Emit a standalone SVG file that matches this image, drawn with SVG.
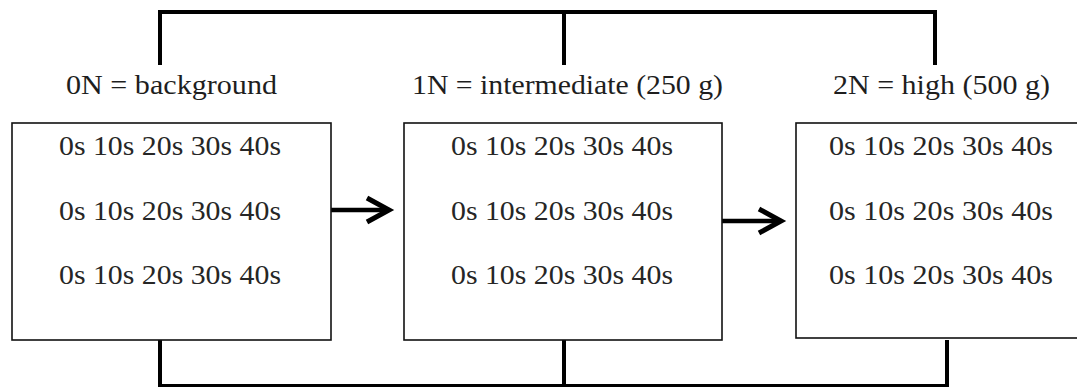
<svg xmlns="http://www.w3.org/2000/svg" width="1077" height="387" viewBox="0 0 1077 387">
  <style>
    .box { fill: #ffffff; stroke: #111111; stroke-width: 1.6; }
    .label { font-family: "Liberation Serif", "Times New Roman", serif; font-size: 27px; fill: #1e1e1e; }
    .row { font-family: "Liberation Serif", "Times New Roman", serif; font-size: 26.5px; fill: #262626; }
    .bracket { fill: none; stroke: #000000; stroke-width: 4; stroke-linejoin: miter; stroke-linecap: butt; }
    .shaft { fill: none; stroke: #000000; stroke-width: 4.5; }
    .head { fill: none; stroke: #000000; stroke-width: 5; stroke-linejoin: miter; stroke-linecap: butt; }
  </style>
  <rect width="1077" height="387" fill="#ffffff"/>

  <g id="connectors">
    <!-- top bracket joining the three load labels -->
    <path class="bracket" d="M160,65 V12 H935 V65 M564,12 V65"/>
    <!-- bottom bracket joining the three boxes -->
    <path class="bracket" d="M160,340 V386 H947 V340 M564,340 V386"/>
    <!-- progression arrows -->
    <line class="shaft" x1="331" y1="210" x2="388" y2="210"/>
    <polyline class="head" points="367,198 389,210 367,222"/>
    <line class="shaft" x1="722" y1="221" x2="780" y2="221"/>
    <polyline class="head" points="759,209 781,221 759,233"/>
  </g>

  <g id="node-0N">
    <text class="label" x="66" y="94" textLength="211" lengthAdjust="spacingAndGlyphs">0N = background</text>
    <rect class="box" x="12" y="123" width="319" height="217"/>
    <text class="row" x="59" y="155" textLength="222" lengthAdjust="spacingAndGlyphs">0s 10s 20s 30s 40s</text>
    <text class="row" x="59" y="219.5" textLength="222" lengthAdjust="spacingAndGlyphs">0s 10s 20s 30s 40s</text>
    <text class="row" x="59" y="284" textLength="222" lengthAdjust="spacingAndGlyphs">0s 10s 20s 30s 40s</text>
  </g>

  <g id="node-1N">
    <text class="label" x="412" y="94" textLength="311" lengthAdjust="spacingAndGlyphs">1N = intermediate (250 g)</text>
    <rect class="box" x="404" y="123" width="318" height="217"/>
    <text class="row" x="451" y="155" textLength="222" lengthAdjust="spacingAndGlyphs">0s 10s 20s 30s 40s</text>
    <text class="row" x="451" y="219.5" textLength="222" lengthAdjust="spacingAndGlyphs">0s 10s 20s 30s 40s</text>
    <text class="row" x="451" y="284" textLength="222" lengthAdjust="spacingAndGlyphs">0s 10s 20s 30s 40s</text>
  </g>

  <g id="node-2N">
    <text class="label" x="833" y="94" textLength="217" lengthAdjust="spacingAndGlyphs">2N = high (500 g)</text>
    <rect class="box" x="796" y="123" width="290" height="215"/>
    <text class="row" x="829" y="155" textLength="224" lengthAdjust="spacingAndGlyphs">0s 10s 20s 30s 40s</text>
    <text class="row" x="829" y="219.5" textLength="224" lengthAdjust="spacingAndGlyphs">0s 10s 20s 30s 40s</text>
    <text class="row" x="829" y="284" textLength="224" lengthAdjust="spacingAndGlyphs">0s 10s 20s 30s 40s</text>
  </g>
</svg>
